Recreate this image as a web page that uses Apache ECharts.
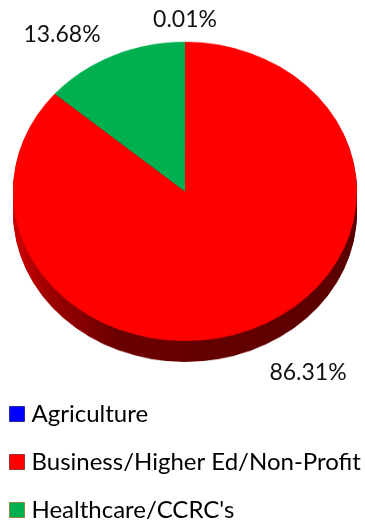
<!DOCTYPE html>
<html>
<head>
<meta charset="utf-8">
<script src="https://cdn.jsdelivr.net/npm/echarts@6/dist/echarts.min.js"></script>
<style>
  html, body { margin: 0; padding: 0; background: #fff; }
  #wrap { position: relative; width: 365px; height: 523px; overflow: hidden; }
  #pie { position: absolute; left: 0; top: 0; width: 365px; height: 523px; transform-origin: 0 0; transform: scaleY(0.870); }
  #over { position: absolute; left: 0; top: 0; width: 365px; height: 523px; }
</style>
</head>
<body>
<div id="wrap">
  <div id="pie"></div>
  <div id="over"></div>
</div>
<script>
// ---- data ----
const categories = ['Agriculture', 'Business/Higher Ed/Non-Profit', "Healthcare/CCRC's"];
const shares = [0.01, 86.31, 13.68];
const topColors = ['#0000ff', '#ff0000', '#00b050'];

// ---- chart A: pie faces (squashed vertically to an ellipse) ----
const pieData = categories.map((c, i) => ({ name: c, value: shares[i] }));
const sideGrad = new echarts.graphic.LinearGradient(0, 0, 1, 0, [
  { offset: 0, color: '#d00000' },
  { offset: 0.1, color: '#a00000' },
  { offset: 0.3, color: '#6c0000' },
  { offset: 1, color: '#5a0000' }
]);
const sideColors = ['#00005a', sideGrad, '#004020'];
const cx = 185, cy = 220, R = 172, depth = 24;
const series = [];
for (let d = depth; d >= 1; d -= 1.5) {
  series.push({
    type: 'pie', silent: true, animation: false,
    center: [cx, cy + d], radius: R, startAngle: 90, clockwise: true,
    label: { show: false }, labelLine: { show: false },
    data: pieData.map((p, i) => ({ name: p.name, value: p.value, itemStyle: { color: sideColors[i] } })),
    itemStyle: { borderWidth: 0 }, z: 1
  });
}
series.push({
  type: 'pie', silent: true, animation: false,
  center: [cx, cy], radius: R, startAngle: 90, clockwise: true,
  label: { show: false }, labelLine: { show: false },
  data: pieData.map((p, i) => ({ name: p.name, value: p.value, itemStyle: { color: topColors[i] } })),
  itemStyle: { borderWidth: 0 }, z: 5
});
const chartA = echarts.init(document.getElementById('pie'));
chartA.setOption({ backgroundColor: '#fff', animation: false, series });

// ---- chart B: labels + legend ----
const labelPos = [[185, 20], [308, 373], [62, 35]];
const legendBorders = ['#2a2a9a', '#a03030', '#8a8a40'];
const chartB = echarts.init(document.getElementById('over'));
chartB.setOption({
  backgroundColor: 'transparent',
  animation: false,
  legend: {
    orient: 'vertical', left: 9, top: 401, padding: 0,
    itemWidth: 15, itemHeight: 15, itemGap: 22,
    icon: 'rect',
    selectedMode: false,
    textStyle: { fontFamily: 'Lato', fontSize: 24, color: '#000', lineHeight: 26, padding: [0, 0, 0, 2] },
    data: categories.map((c, i) => ({ name: c, itemStyle: { color: topColors[i], borderColor: legendBorders[i], borderWidth: 1, opacity: 1 } }))
  },
  series: [{
    type: 'pie', silent: true, animation: false,
    center: [185, 191], radius: 150, startAngle: 90, clockwise: true,
    avoidLabelOverlap: false,
    itemStyle: { color: 'rgba(0,0,0,0)' },
    label: {
      show: true, position: 'outside', opacity: 1,
      formatter: p => p.value.toFixed(2) + '%',
      fontFamily: 'Lato', fontSize: 23, color: '#111'
    },
    labelLine: { show: false },
    labelLayout: p => ({ x: labelPos[p.dataIndex][0], y: labelPos[p.dataIndex][1], align: 'center', verticalAlign: 'middle' }),
    data: pieData
  }]
});
</script>
</body>
</html>
